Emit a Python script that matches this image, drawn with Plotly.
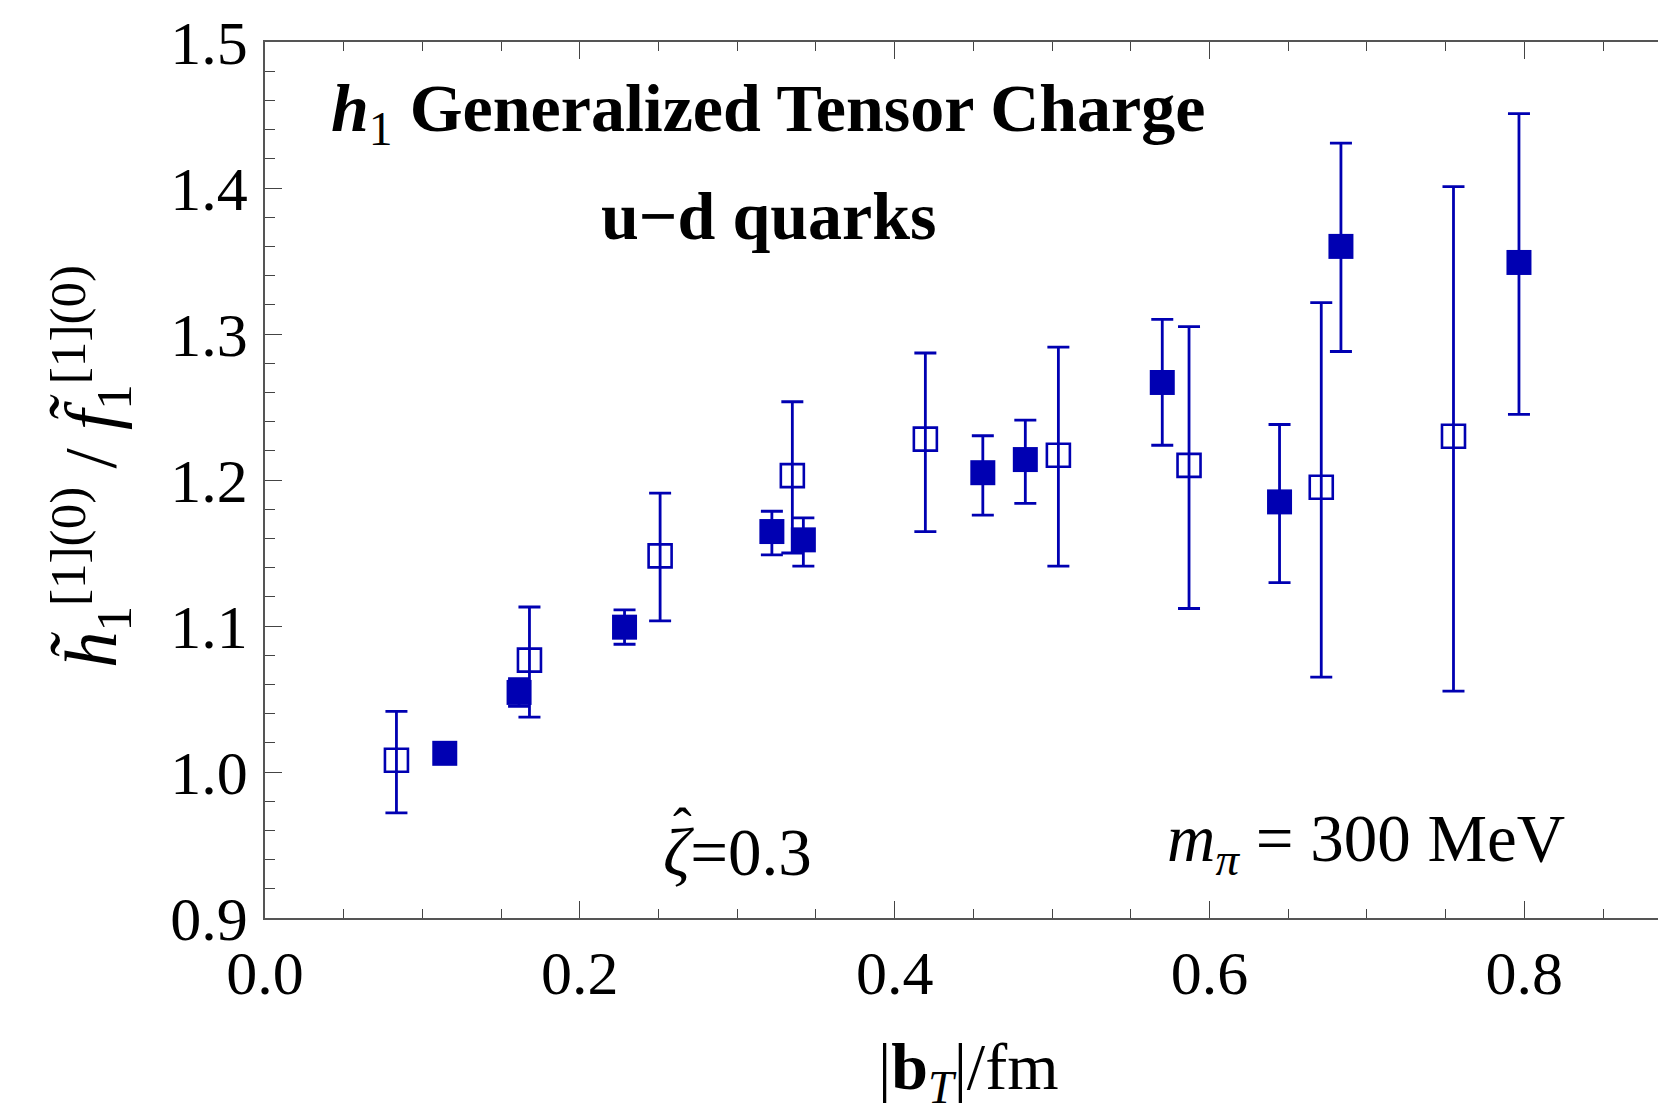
import plotly.graph_objects as go

# Open squares (hollow)
open_x = [0.0835, 0.168, 0.251, 0.335, 0.4195, 0.504, 0.587, 0.671, 0.755]
open_y = [1.008, 1.0766, 1.148, 1.203, 1.228, 1.217, 1.210, 1.195, 1.230]
open_hi = [1.0415, 1.113, 1.191, 1.2536, 1.287, 1.291, 1.305, 1.3215, 1.401]
open_lo = [0.972, 1.0376, 1.1035, 1.150, 1.1647, 1.141, 1.112, 1.065, 1.0554]

# Filled squares
fill_x = [0.1142, 0.1614, 0.2284, 0.322, 0.342, 0.456, 0.483, 0.570, 0.6445, 0.6835, 0.7966]
fill_y = [1.0128, 1.0545, 1.0992, 1.1647, 1.159, 1.205, 1.214, 1.2668, 1.185, 1.360, 1.349]
fill_hi = [1.015, 1.064, 1.111, 1.1786, 1.174, 1.2303, 1.241, 1.310, 1.238, 1.4307, 1.451]
fill_lo = [1.0105, 1.045, 1.0875, 1.1487, 1.141, 1.176, 1.184, 1.2238, 1.1297, 1.288, 1.245]

x_ticks = [0.0, 0.2, 0.4, 0.6, 0.8]
y_ticks = [0.9, 1.0, 1.1, 1.2, 1.3, 1.4, 1.5]

BLUE = "#0000B2"
FONT = "Liberation Serif"

# page offset (body margin) compensation
OFF = 8
L, T, W, H = 265 - OFF, 42 - OFF, 1401, 876

fig = go.Figure()

fig.add_trace(go.Scatter(
    x=fill_x, y=fill_y, mode="markers",
    marker=dict(symbol="square", size=25, color=BLUE, line=dict(width=0)),
    error_y=dict(type="data", symmetric=False,
                 array=[h - v for h, v in zip(fill_hi, fill_y)],
                 arrayminus=[v - l for v, l in zip(fill_y, fill_lo)],
                 color=BLUE, thickness=2.8, width=11),
    showlegend=False,
))

fig.add_trace(go.Scatter(
    x=open_x, y=open_y, mode="markers",
    marker=dict(symbol="square-open", size=23, color=BLUE, line=dict(width=2.6, color=BLUE)),
    error_y=dict(type="data", symmetric=False,
                 array=[h - v for h, v in zip(open_hi, open_y)],
                 arrayminus=[v - l for v, l in zip(open_y, open_lo)],
                 color=BLUE, thickness=2.8, width=11),
    showlegend=False,
))

axis_common = dict(
    showgrid=False, zeroline=False, showline=True, linecolor="#555555", linewidth=1.5,
    ticks="inside", tickcolor="#444444", tickwidth=1.3, ticklen=17,
    tickfont=dict(family=FONT, size=62, color="black"),
)

fig.update_xaxes(
    **axis_common, range=[0, 0.890], tickvals=x_ticks, ticktext=[f"{v:.1f}" for v in x_ticks],
    mirror="ticks", ticklabelstandoff=0,
    minor=dict(dtick=0.05, tick0=0, ticks="inside", ticklen=9, tickcolor="#444444", tickwidth=1.3),
)
fig.update_yaxes(
    **axis_common, range=[0.9, 1.5], tickvals=y_ticks, ticktext=[f"{v:.1f}" for v in y_ticks],
    mirror=False, ticklabelstandoff=3,
    minor=dict(dtick=0.02, tick0=0.9, ticks="inside", ticklen=10, tickcolor="#444444", tickwidth=1.3),
)

fig.update_layout(
    width=1666, height=1110,
    margin=dict(l=L, r=1666 - L - W, t=T, b=1110 - T - H, autoexpand=False),
    plot_bgcolor="white", paper_bgcolor="white",
    font=dict(family=FONT, color="black"),
)


def px(xp):
    return (xp - OFF - L) / W


def py(yp):
    return 1 - (yp - OFF - T) / H


ann = [
    dict(text="<b><i>h</i></b><sub>1</sub><b> Generalized Tensor Charge</b>",
         x=768, y=112, size=68),
    dict(text="<b>u\u2212d quarks</b>", x=768, y=216, size=68),
    dict(text="<i>\u03b6</i>=0.3", x=737, y=852, size=67),
    dict(text="\u02c6", x=682, y=828, size=56),
    dict(text="<i>m</i><sub><i>\u03c0</i></sub> = 300 MeV", x=1366, y=843, size=67),
    dict(text="|<b>b</b><sub><i>T</i></sub>|/fm", x=968, y=1071, size=66),
]
for a in ann:
    fig.add_annotation(
        text=a["text"], xref="paper", yref="paper",
        x=px(a["x"]), y=py(a["y"]),
        xanchor="center", yanchor="middle", showarrow=False,
        font=dict(family=FONT, size=a["size"], color="black"),
    )

fig.add_annotation(
    text="<i>h\u0303</i><sub>1</sub><sup>[1](0)</sup> / <i>f\u0303</i><sub>1</sub><sup>[1](0)</sup>",
    xref="paper", yref="paper",
    x=px(90), y=py(467),
    xanchor="center", yanchor="middle", showarrow=False, textangle=-90,
    font=dict(family=FONT, size=73, color="black"),
)

fig.write_html("out.html")
